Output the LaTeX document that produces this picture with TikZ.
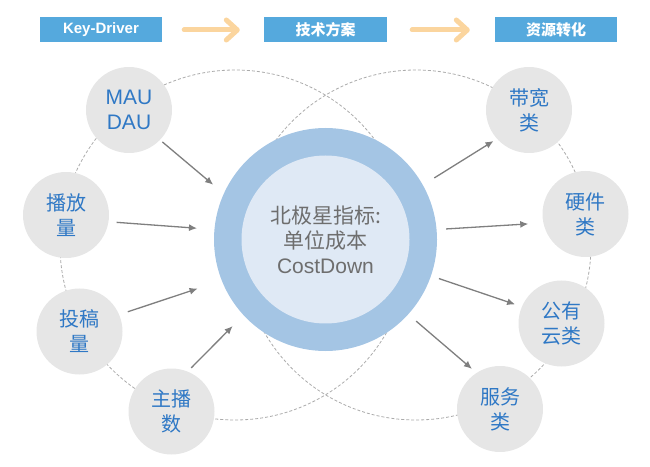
\documentclass[tikz,border=0pt]{standalone}
\usepackage{fontspec}
\setmainfont{Liberation Sans}
\newfontfamily\cjk{Noto Sans CJK SC}
\usetikzlibrary{calc}
\usetikzlibrary{arrows.meta}
\usepackage{color}
\definecolor{hdrblue}{HTML}{55A9DD}
\definecolor{hdrarrow}{HTML}{FBD59E}
\definecolor{ringblue}{HTML}{A4C5E4}
\definecolor{coreblue}{HTML}{DFE9F5}
\definecolor{bubblegray}{HTML}{E6E6E6}
\definecolor{labelblue}{HTML}{2F78C5}
\definecolor{coretext}{HTML}{6E6E6E}
\definecolor{arrowgray}{HTML}{7F7F7F}
\definecolor{dashgray}{HTML}{ABABAB}

\tikzset{
    header/.style = {fill = hdrblue, text = white, minimum width = 122pt, minimum height = 25pt, inner sep = 0pt, font = \fontsize{15}{18}\selectfont\bfseries},
    flow/.style = {draw = hdrarrow, line width = 5pt, line cap = round, -{Straight Barb[length = 11pt, width = 20pt, round]}},
    bubble/.style = {circle, fill = bubblegray, minimum size = 86pt, inner sep = 0pt, align = center, text = labelblue, font = \cjk\fontsize{20}{25}\selectfont},
    driver/.style = {draw = arrowgray, line width = 1.3pt, -{Latex[length = 8pt, width = 7pt]}},
    orbit/.style = {draw = dashgray, line width = 0.8pt, dash pattern = on 3pt off 2pt}
}

\begin{document}
\begin{tikzpicture}[x = 1pt, y = 1pt]
            \useasboundingbox (0, 0) rectangle (650, 466);

            \coordinate (core) at (325.5, 226.5);
            \coordinate (l) at (235, 221);
            \coordinate (r) at (416, 221);

            \draw [orbit] (l) circle (175);
            \draw [orbit] (r) circle (175);

            \node [header] (kd) at (101, 436) {Key-Driver};
            \node [header, minimum width = 123pt, font = \cjk\fontsize{15}{18}\selectfont\bfseries] (js) at (325.5, 436) {技术方案};
            \node [header, font = \cjk\fontsize{15}{18}\selectfont\bfseries] (zy) at (556, 436) {资源转化};

            \draw [flow, shorten <= 22pt, shorten >= 24pt] (kd) -- (js);
            \draw [flow, shorten <= 25pt, shorten >= 25pt] (js) -- (zy);

            \node [bubble, font = \fontsize{21}{25}\selectfont] (mau) at (129, 356) {MAU\\DAU};
            \node [bubble] (bofang) at (66, 251) {播放\\量};
            \node [bubble] (tougao) at (79.5, 134.5) {投稿\\量};
            \node [bubble] (zhubo) at (171.5, 54.5) {主播\\数};

            \node [bubble] (daikuan) at (529, 356) {带宽\\类};
            \node [bubble] (yingjian) at (585.5, 252) {硬件\\类};
            \node [bubble] (gongyou) at (561.5, 142.5) {公有\\云类};
            \node [bubble] (fuwu) at (500, 57) {服务\\类};

            \node [circle, fill = ringblue, minimum size = 223pt] (ring) at (core) {};
            \node [circle, fill = coreblue, minimum size = 168pt, inner sep = 0pt, align = center, text = coretext, font = \fontsize{21}{25}\selectfont] (star) at (core) {{\cjk 北极星指标:}\\{\cjk 单位成本}\\CostDown};

            \coordinate (in1) at ($(core) + (154:125)$);
            \coordinate (in2) at ($(core) + (175:129)$);
            \coordinate (in3) at ($(core) + (201:137)$);
            \coordinate (in4) at ($(core) + (223:127)$);
            \coordinate (out1) at ($(core) + (29.5:125)$);
            \coordinate (out2) at ($(core) + (5:121)$);
            \coordinate (out3) at ($(core) + (-19:120)$);
            \coordinate (out4) at ($(core) + (-42:122)$);

            \draw [driver, shorten <= 3pt] (mau.-44) -- (in1);
            \draw [driver, shorten <= 8pt] (bofang.-9) -- (in2);
            \draw [driver, shorten <= 9pt] (tougao.23) -- (in3);
            \draw [driver, shorten <= 5pt] (zhubo.68) -- (in4);
            \draw [driver, shorten >= 4pt] (out1) -- (daikuan.222);
            \draw [driver, shorten >= 15pt] (out2) -- (yingjian.192);
            \draw [driver, shorten >= 7pt] (out3) -- (gongyou.157);
            \draw [driver, shorten >= 6pt] (out4) -- (fuwu.123);
        \end{tikzpicture}
\end{document}
